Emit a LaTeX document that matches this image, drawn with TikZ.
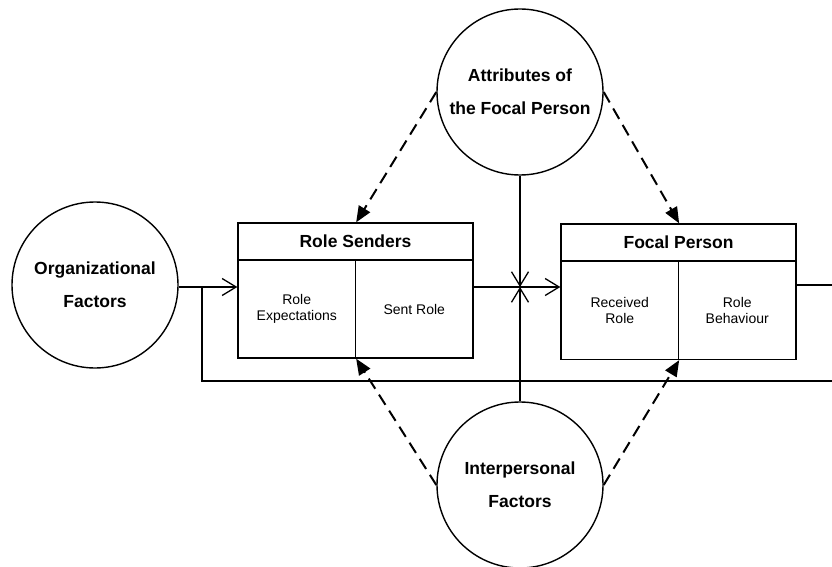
\documentclass[tikz,border=0pt]{standalone}
\usepackage{fontspec}
\setmainfont{Liberation Sans}
\usetikzlibrary{arrows.meta}

\begin{document}
\begin{tikzpicture}[x=1pt, y=-1pt,
  factor/.style={draw, circle, line width=1.4pt, minimum size=166pt, inner sep=0pt, align=center, font=\bfseries\fontsize{17.5}{33}\selectfont},
  header/.style={draw, line width=1.3pt, minimum width=235pt, minimum height=37pt, inner sep=0pt, font=\bfseries\fontsize{17.5}{20}\selectfont},
  cell/.style={draw, line width=1.3pt, minimum width=117.5pt, minimum height=98pt, inner sep=0pt, align=center, font=\fontsize{14}{16}\selectfont},
  link/.style={line width=1.3pt},
  feed/.style={link, -{Straight Barb[length=14pt,width=17pt,line width=1.3pt]}},
  influence/.style={line width=2pt, dash pattern=on 12pt off 7pt, -{Stealth[length=16pt,width=13pt,inset=0pt]}}
]
% Fix the canvas to the reference size
\useasboundingbox (0,0) rectangle (832,567);

% The three circles
\node[factor] (org) at (95,285) {Organizational\\Factors};
\node[factor] (attr) at (520,92) {Attributes of\\the Focal Person};
\node[factor] (inter) at (520,485) {Interpersonal\\Factors};

% Role senders box
\node[header] (rs) at (355.5,241.5) {Role Senders};
\node[cell] (rexp) at (296.75,309) {Role\\Expectations};
\node[cell] (sent) at (414.25,309) {Sent Role};

% Focal person box
\node[header] (fp) at (678.5,242.5) {Focal Person};
\node[cell] (recv) at (619.75,310.5) {Received\\Role};
\node[cell] (behav) at (737.25,310.5) {Role\\Behaviour};

% Junction points and free ends
\coordinate (fork) at (202,287);
\coordinate (meet) at (520,287);
\coordinate (loopend) at (832,381);
\coordinate (outR) at (832,285);

% Solid connectors
\draw[feed] (org.east |- fork) -- (rexp.west |- fork);
\draw[link] (fork) |- (loopend);
\draw[feed] (sent.east |- meet) -- (recv.west |- meet);
\draw[feed] (attr.south) -- (meet);
\draw[feed] (inter.north) -- (meet);
\draw[link] (behav.east |- outR) -- (outR);

% Dashed influences
\draw[influence] (attr.west) -- (rexp.north east |- rs.north);
\draw[influence] (attr.east) -- (recv.north east |- fp.north);
\draw[influence] (inter.west) -- (rexp.south east);
\draw[influence] (inter.east) -- (recv.south east);
\end{tikzpicture}
\end{document}
